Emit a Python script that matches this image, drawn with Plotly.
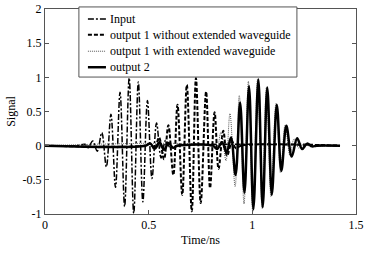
import plotly.graph_objects as go

# Extrema (time in ns, signal)
input_t = [0.0, 0.150, 0.193, 0.208, 0.230, 0.252, 0.274, 0.296, 0.318, 0.340, 0.362, 0.384,
           0.406, 0.428, 0.450, 0.472, 0.494, 0.516, 0.538, 0.560, 0.582, 0.604, 0.630, 1.42]
input_y = [0.0, 0.0, 0.02, -0.03, 0.07, -0.08, 0.19, -0.31, 0.46, -0.61, 0.78, -0.89,
           0.99, -0.99, 0.93, -0.82, 0.66, -0.48, 0.33, -0.18, 0.08, -0.03, 0.0, 0.0]

out1_t = [0.0, 0.480, 0.507, 0.528, 0.550, 0.574, 0.595, 0.619, 0.639, 0.662, 0.684, 0.708,
          0.728, 0.751, 0.777, 0.796, 0.818, 0.837, 0.860, 0.878, 0.902, 0.921, 0.945, 1.42]
out1_y = [0.0, 0.0, 0.03, -0.05, 0.12, -0.20, 0.30, -0.43, 0.60, -0.72, 0.89, -0.96,
          0.99, -0.84, 0.79, -0.62, 0.49, -0.34, 0.22, -0.15, 0.06, -0.04, 0.0, 0.0]

out1ext_t = [0.0, 0.800, 0.827, 0.849, 0.873, 0.892, 0.917, 0.937, 0.960, 0.981, 1.002, 1.025,
             1.047, 1.068, 1.090, 1.114, 1.136, 1.158, 1.182, 1.201, 1.225, 1.245, 1.270, 1.42]
out1ext_y = [0.0, 0.0, -0.05, 0.20, -0.22, 0.47, -0.60, 0.74, -0.85, 0.94, -0.97, 0.97,
             -0.92, 0.85, -0.75, 0.62, -0.40, 0.30, -0.15, 0.10, -0.04, 0.02, 0.0, 0.0]

out2_t = [0.0, 0.485, 0.507, 0.531, 0.552, 0.574, 0.596, 0.617, 0.640, 0.810, 0.830, 0.854,
          0.876, 0.897, 0.919, 0.941, 0.962, 0.984, 1.005, 1.029, 1.050, 1.072, 1.094, 1.118,
          1.140, 1.164, 1.190, 1.216, 1.240, 1.264, 1.288, 1.310, 1.423]
out2_y = [0.0, 0.0, 0.03, -0.04, 0.05, -0.06, 0.04, -0.03, 0.0, 0.0, -0.05, 0.05,
          -0.10, 0.12, -0.43, 0.63, -0.69, 0.87, -0.93, 0.97, -0.90, 0.85, -0.72, 0.60,
          -0.37, 0.29, -0.16, 0.11, -0.05, 0.03, -0.01, 0.0, 0.0]

names = ["Input", "output 1 without extended waveguide",
         "output 1 with extended waveguide", "output 2"]

font = "Liberation Serif, Times New Roman, serif"

styles = [
    dict(color="black", width=1.5, dash="6px,2px,2px,2px"),
    dict(color="black", width=2, dash="4px,2px"),
    dict(color="#555555", width=1, dash="1px,1px"),
    dict(color="black", width=2.5, dash="solid"),
]
series = [(input_t, input_y), (out1_t, out1_y), (out1ext_t, out1ext_y), (out2_t, out2_y)]

fig = go.Figure()
for (t, y), name, st in zip(series, names, styles):
    fig.add_trace(go.Scatter(x=t, y=y, mode="lines", name=name, showlegend=False,
                             line=dict(shape="spline", **st)))

# Compact legend box (legend keys + labels), placed in paper coordinates
leg_x0, leg_x1, leg_y0, leg_y1 = 0.109, 0.810, 0.668, 1.01
row_y = [0.951, 0.874, 0.794, 0.716]
key_x0, key_x1, text_x = 0.138, 0.196, 0.203

fig.add_shape(type="rect", xref="paper", yref="paper", x0=leg_x0, x1=leg_x1, y0=leg_y0, y1=leg_y1,
              fillcolor="white", line=dict(color="#555555", width=1), layer="above")
for ry, name, st in zip(row_y, names, styles):
    fig.add_shape(type="line", xref="paper", yref="paper", x0=key_x0, x1=key_x1, y0=ry, y1=ry,
                  line=st, layer="above")
    fig.add_annotation(xref="paper", yref="paper", x=text_x, y=ry, text=name, showarrow=False,
                       xanchor="left", yanchor="middle",
                       font=dict(family=font, size=12, color="black"))

axis_common = dict(showline=True, linecolor="#555555", linewidth=1, mirror="ticks",
                   ticks="inside", ticklen=4, tickcolor="#555555", showgrid=False,
                   zeroline=False, automargin=False,
                   tickfont=dict(family=font, size=12, color="black"))

fig.update_layout(
    width=369, height=255,
    margin=dict(l=45, r=13, t=9, b=41),
    paper_bgcolor="white", plot_bgcolor="white",
    font=dict(family=font, size=12, color="black"),
    showlegend=False,
    xaxis=dict(range=[0, 1.5], tickvals=[0, 0.5, 1, 1.5], ticktext=["0", "0.5", "1", "1.5"],
               title=dict(text="Time/ns", font=dict(family=font, size=12), standoff=4),
               **axis_common),
    yaxis=dict(range=[-1, 2], tickvals=[-1, -0.5, 0, 0.5, 1, 1.5, 2],
               ticktext=["-1", "-0.5", "0", "0.5", "1", "1.5", "2"],
               title=dict(text="Signal", font=dict(family=font, size=12), standoff=4),
               **axis_common),
)

fig.write_html("out.html", config={"displayModeBar": False},
               post_script="document.body.style.margin='0';")
